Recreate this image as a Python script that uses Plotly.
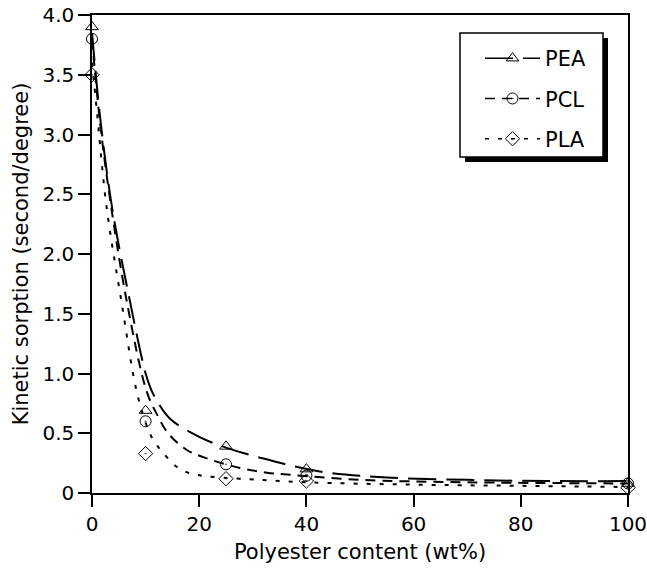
import plotly.graph_objects as go

# Measured points
x_pts = [0, 10, 25, 40, 100]
pea_pts = [3.9, 0.69, 0.39, 0.20, 0.08]
pcl_pts = [3.8, 0.60, 0.24, 0.145, 0.08]
pla_pts = [3.5, 0.33, 0.12, 0.10, 0.045]

# Fitted curves
pea_cx = [0, 1.5, 3.7, 7.1, 10, 11, 12, 14.6, 20, 25, 31, 42.5, 55, 70, 85, 100]
pea_cy = [3.85, 3.15, 2.4, 1.6, 1.0, 0.87, 0.78, 0.62, 0.47, 0.38, 0.30, 0.18, 0.13, 0.11, 0.10, 0.10]
pcl_cx = [0, 1.5, 3.4, 6.5, 10.2, 12.1, 14.2, 17.7, 21.4, 27.6, 32.6, 37.6, 50, 70, 100]
pcl_cy = [3.8, 3.1, 2.45, 1.6, 0.85, 0.66, 0.50, 0.36, 0.29, 0.21, 0.17, 0.15, 0.11, 0.09, 0.08]
pla_cx = [0, 0.9, 2.7, 5.5, 8.6, 11.1, 13, 15.8, 18.3, 21.4, 27.6, 40, 60, 80, 100]
pla_cy = [3.6, 3.2, 2.4, 1.6, 0.8, 0.47, 0.35, 0.22, 0.165, 0.14, 0.12, 0.09, 0.07, 0.06, 0.05]

y_ticks = [0, 0.5, 1.0, 1.5, 2.0, 2.5, 3.0, 3.5, 4.0]
y_ticktext = ["0", "0.5", "1.0", "1.5", "2.0", "2.5", "3.0", "3.5", "4.0"]
x_ticks = [0, 20, 40, 60, 80, 100]

FONT = "DejaVu Sans, sans-serif"
FS = 21
TFS = 20

series = [
    ("PEA", pea_cx, pea_cy, pea_pts, "triangle-up-open", "28px,10px"),
    ("PCL", pcl_cx, pcl_cy, pcl_pts, "circle-open-dot", "10px,7px"),
    ("PLA", pla_cx, pla_cy, pla_pts, "diamond-open-dot", "4px,9px"),
]

fig = go.Figure()
for name, cx, cy, pts, sym, dash in series:
    fig.add_trace(go.Scatter(
        x=cx, y=cy, mode="lines", line=dict(color="black", width=2, dash=dash, shape="spline"),
        showlegend=False, legendgroup=name, hoverinfo="skip", cliponaxis=False))
for name, cx, cy, pts, sym, dash in series:
    fig.add_trace(go.Scatter(
        x=x_pts, y=pts, mode="markers", name=name, legendgroup=name,
        marker=dict(symbol=sym, size=11, color="black", line=dict(width=1, color="black")),
        showlegend=False, cliponaxis=False))
    fig.add_trace(go.Scatter(
        x=[None], y=[None], mode="lines+markers", name=name, legendgroup=name,
        line=dict(color="black", width=1.5, dash=dash),
        marker=dict(symbol=sym, size=11, color="black", line=dict(width=1, color="black"))))

# plot area in window pixels: x 92..628, y 15..493
def px_x(p):
    return (p - 92) / 536.0
def px_y(p):
    return (493 - p) / 478.0

fig.add_shape(type="rect", xref="paper", yref="paper",
              x0=px_x(465), x1=px_x(608), y0=px_y(162), y1=px_y(38),
              fillcolor="black", line=dict(width=0), layer="below")
fig.add_shape(type="rect", xref="paper", yref="paper",
              x0=px_x(460), x1=px_x(603), y0=px_y(157), y1=px_y(33),
              fillcolor="white", line=dict(width=1.5, color="black"), layer="below")

fig.update_layout(
    width=647, height=568,
    margin=dict(l=92, r=19, t=15, b=75),
    paper_bgcolor="white", plot_bgcolor="white",
    font=dict(family=FONT, size=FS, color="black"),
    legend=dict(x=px_x(480), y=px_y(38), xanchor="left", yanchor="top",
                bgcolor="rgba(0,0,0,0)", borderwidth=0,
                font=dict(size=FS), itemwidth=55, tracegroupgap=10),
    xaxis=dict(range=[0, 100], tickvals=x_ticks, ticks="outside", ticklen=12,
               tickwidth=1.5, tickcolor="black", showline=True, linecolor="black",
               linewidth=1.5, mirror=True, showgrid=False, zeroline=False,
               automargin=False, ticklabeloverflow="allow",
               title=dict(text="Polyester content (wt%)", font=dict(size=FS), standoff=10),
               tickfont=dict(size=TFS)),
    yaxis=dict(range=[0, 4.0], tickvals=y_ticks, ticktext=y_ticktext, ticks="outside",
               ticklen=12, tickwidth=1.5, tickcolor="black", showline=True,
               linecolor="black", linewidth=1.5, mirror=True, showgrid=False,
               zeroline=False, automargin=False, ticklabeloverflow="allow",
               title=dict(text="Kinetic sorption (second/degree)", font=dict(size=FS), standoff=8),
               tickfont=dict(size=TFS)),
)

fig.write_html("out.html", config={"displayModeBar": False},
               post_script="document.body.style.margin='0';document.body.style.overflow='hidden';")
